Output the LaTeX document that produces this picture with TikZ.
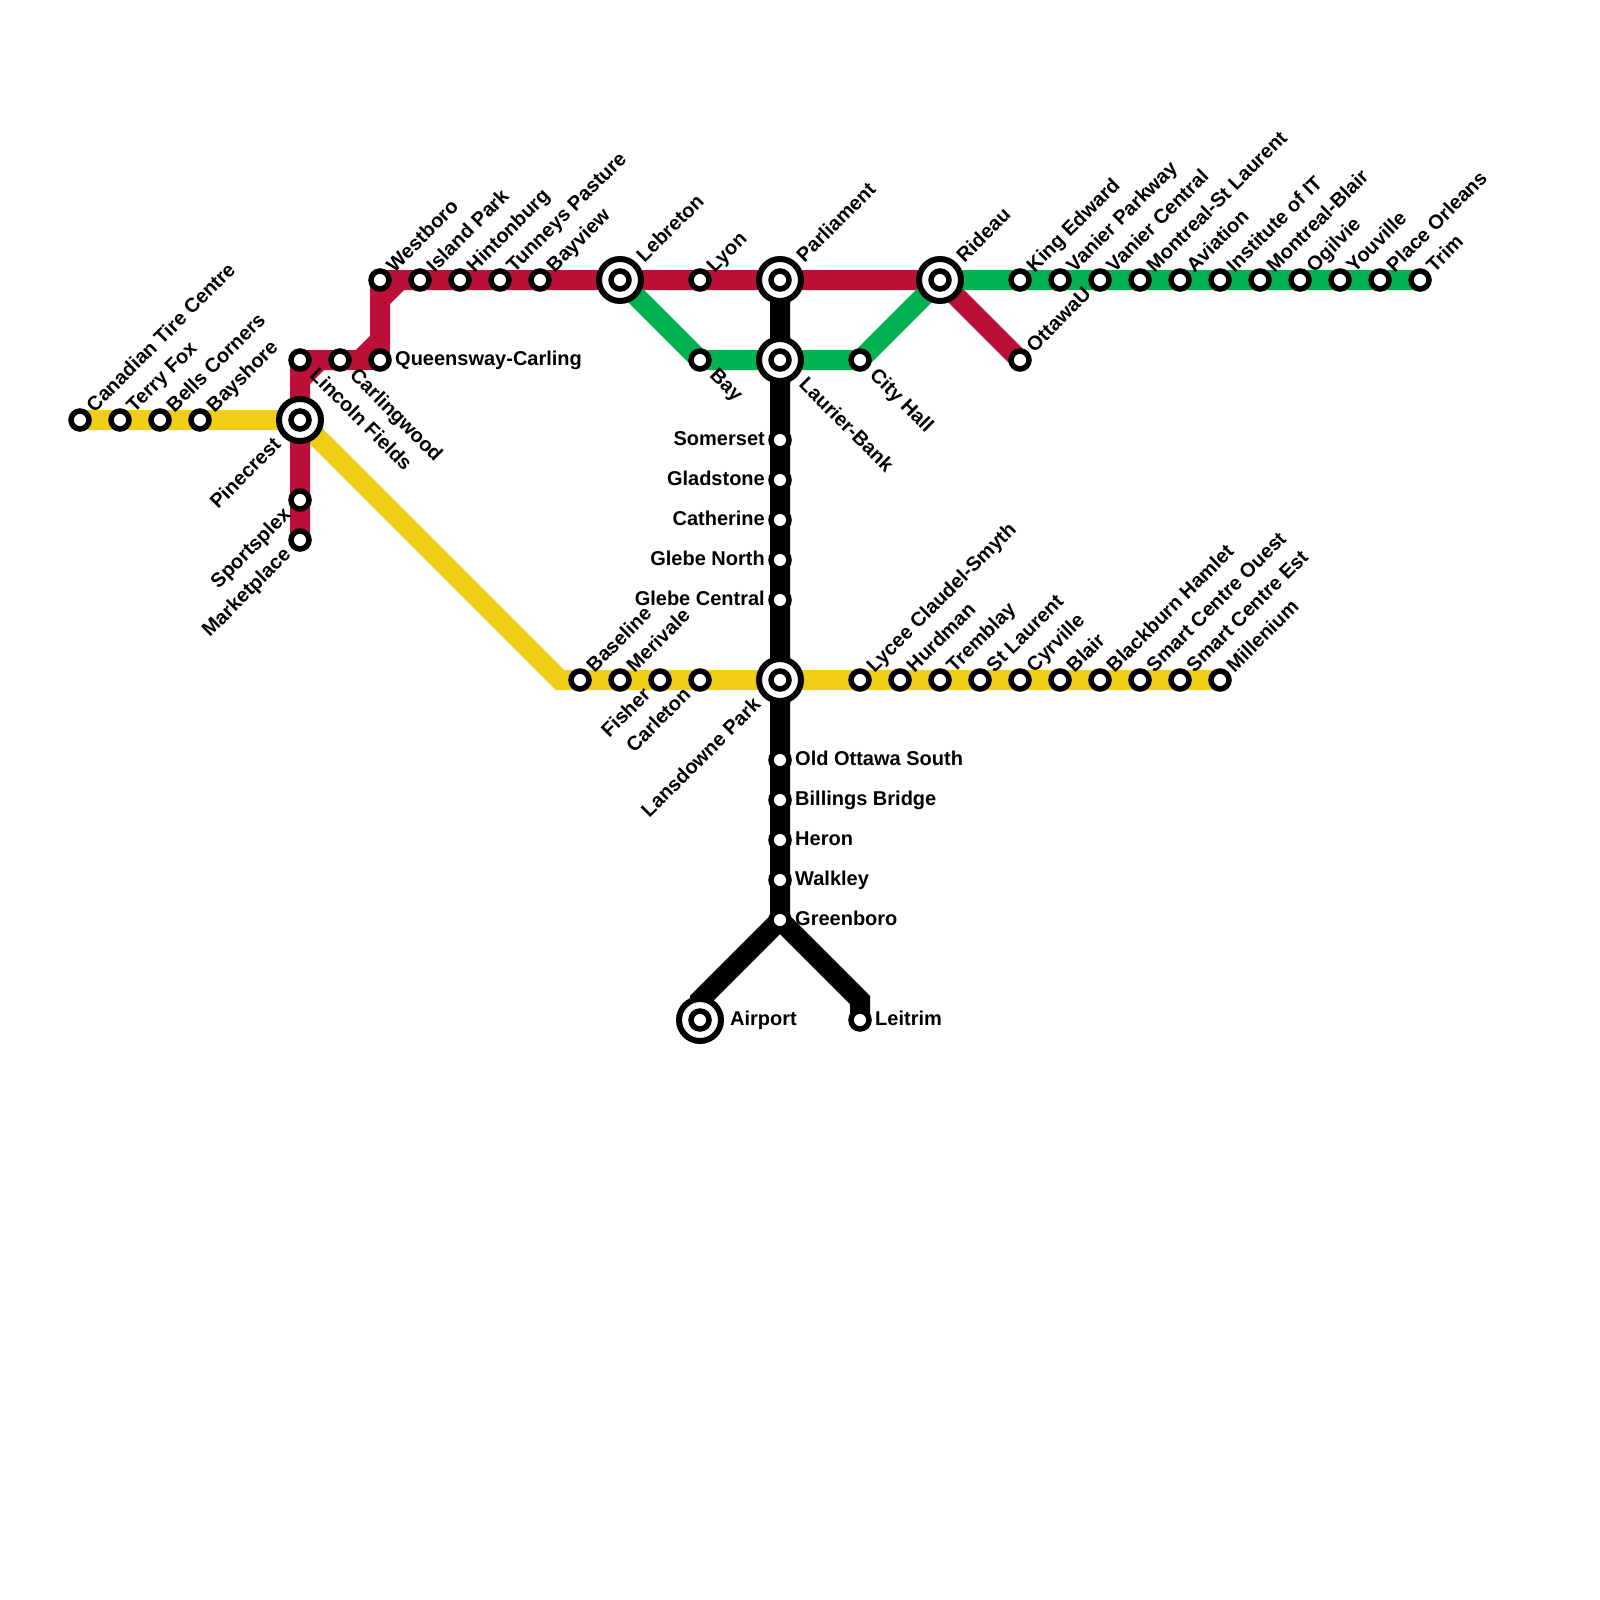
\documentclass[tikz,border=0pt]{standalone}
\usepackage{fontspec}
\setmainfont{Liberation Sans}
\usetikzlibrary{backgrounds}
\definecolor{lineyellow}{HTML}{F0CE15}
\definecolor{linered}{HTML}{BD1038}
\definecolor{linegreen}{HTML}{00B251}
\begin{document}
\begin{tikzpicture}[
  x=1pt, y=-1pt,
  font=\fontsize{20}{24}\selectfont\bfseries,
  stn/.style={circle, draw=black, line width=5.5pt, fill=white, minimum size=18pt,
              inner sep=0pt, outer sep=0pt},
  hub/.style={circle, draw=black, line width=6pt, fill=white, minimum size=42pt,
              inner sep=0pt, outer sep=0pt},
  txt/.style={inner sep=0pt, text height=11pt, text depth=0pt},
  lne/.style={txt, rotate=45, anchor=west, xshift=#1},
  lse/.style={txt, rotate=-45, anchor=west, xshift=#1},
  lsw/.style={txt, rotate=45, anchor=east, xshift=-#1},
  le/.style={txt, anchor=west, xshift=#1},
  lw/.style={txt, anchor=east, xshift=-#1},
  lne/.default=15pt, lse/.default=18pt, lsw/.default=17pt, le/.default=15pt, lw/.default=15pt,
  route/.style={line width=20pt, line cap=butt, line join=miter},
]
\useasboundingbox (0,0) rectangle (1600,1600);

% ================= interchanges ====================================
\foreach \n/\x/\y in {pinecrest/300/420, lebreton/620/280, parliament/780/280,
    rideau/940/280, laurier/780/360, lansdowne/780/680, airport/700/1020}{
  \node[hub] (\n-ring) at (\x,\y) {};
  \node[stn] (\n) at (\x,\y) {};
}
\node[lsw=31pt] (pinecrest-t) at (pinecrest) {Pinecrest};
\node[lne=29pt] (lebreton-t) at (lebreton) {Lebreton};
\node[lne=29pt] (parliament-t) at (parliament) {Parliament};
\node[lne=29pt] (rideau-t) at (rideau) {Rideau};
\node[lse=31pt] (laurier-t) at (laurier) {Laurier-Bank};
\node[lsw=31pt] (lansdowne-t) at (lansdowne) {Lansdowne Park};
\node[le=30pt] (airport-t) at (airport) {Airport};

% ================= stops, labels up and to the right ===============
\foreach \n/\x/\y/\t in {cantire/80/420/Canadian Tire Centre, terryfox/120/420/Terry Fox,
    bells/160/420/Bells Corners, bayshore/200/420/Bayshore,
    westboro/380/280/Westboro, island/420/280/Island Park, hinton/460/280/Hintonburg,
    tunneys/500/280/Tunneys Pasture, bayview/540/280/Bayview, lyon/700/280/Lyon,
    king/1020/280/King Edward, vanierp/1060/280/Vanier Parkway, vanierc/1100/280/Vanier Central,
    montstl/1140/280/Montreal-St Laurent, aviation/1180/280/Aviation, iot/1220/280/Institute of IT,
    montblair/1260/280/Montreal-Blair, ogilvie/1300/280/Ogilvie, youville/1340/280/Youville,
    orleans/1380/280/Place Orleans, trim/1420/280/Trim, ottawau/1020/360/OttawaU,
    baseline/580/680/Baseline, merivale/620/680/Merivale, lycee/860/680/Lycee Claudel-Smyth,
    hurdman/900/680/Hurdman, tremblay/940/680/Tremblay, stlaurent/980/680/St Laurent,
    cyrville/1020/680/Cyrville, blair/1060/680/Blair, blackburn/1100/680/Blackburn Hamlet,
    smarto/1140/680/Smart Centre Ouest, smarte/1180/680/Smart Centre Est, millenium/1220/680/Millenium}{
  \node[stn] (\n) at (\x,\y) {};
  \node[lne] (\n-t) at (\n) {\t};
}

% ================= stops, labels down and to the right =============
\foreach \n/\x/\y/\t in {lincoln/300/360/Lincoln Fields, carling/340/360/Carlingwood,
    bay/700/360/Bay, cityhall/860/360/City Hall}{
  \node[stn] (\n) at (\x,\y) {};
  \node[lse] (\n-t) at (\n) {\t};
}

% ================= stops, labels down and to the left ==============
\foreach \n/\x/\y/\t in {sports/300/500/Sportsplex, market/300/540/Marketplace,
    fisher/660/680/Fisher, carleton/700/680/Carleton}{
  \node[stn] (\n) at (\x,\y) {};
  \node[lsw] (\n-t) at (\n) {\t};
}

% ================= stops, level labels =============================
\foreach \n/\y/\t in {somerset/440/Somerset, gladstone/480/Gladstone, catherine/520/Catherine,
    gleben/560/Glebe North, glebec/600/Glebe Central}{
  \node[stn] (\n) at (780,\y) {};
  \node[lw] (\n-t) at (\n) {\t};
}
\foreach \n/\x/\y/\t in {queensway/380/360/Queensway-Carling, oldottawa/780/760/Old Ottawa South,
    billings/780/800/Billings Bridge, heron/780/840/Heron, walkley/780/880/Walkley,
    greenboro/780/920/Greenboro, leitrim/860/1020/Leitrim}{
  \node[stn] (\n) at (\x,\y) {};
  \node[le] (\n-t) at (\n) {\t};
}

% ================= bends ===========================================
\coordinate (ybend) at (560,680);
\coordinate (rbend1) at (300,380);
\coordinate (rbend2) at (320,360);
\coordinate (rbend3) at (360,360);
\coordinate (rbend4) at (380,340);
\coordinate (rbend5) at (380,300);
\coordinate (rbend6) at (400,280);
\coordinate (kbend1) at (700,1000);
\coordinate (kbend2) at (860,1000);

% ================= routes, under the stops =========================
\begin{scope}[on background layer]
  \draw[route, lineyellow] (cantire.center) -- (pinecrest.center) -- (ybend) -- (millenium.center);
  \draw[route, linered] (market.center) -- (rbend1) -- (rbend2) -- (rbend3) -- (rbend4)
    -- (rbend5) -- (rbend6) -- (rideau.center) -- (ottawau.center);
  % short pieces out to the stops at the bends
  \draw[route, linered, line join=round] (rbend1) -- (lincoln.center) -- (rbend2);
  \draw[route, linered, line join=round] (rbend3) -- (queensway.center) -- (rbend4);
  \draw[route, linered, line join=round] (rbend5) -- (westboro.center) -- (rbend6);
  \draw[route, linegreen] (lebreton.center) -- (bay.center) -- (cityhall.center)
    -- (rideau.center) -- (trim.center);
  \draw[route, black] (parliament.center) -- (greenboro.center) -- (kbend1) -- (airport.center);
  \draw[route, black] (greenboro.center) -- (kbend2) -- (leitrim.center);
\end{scope}
\end{tikzpicture}
\end{document}
